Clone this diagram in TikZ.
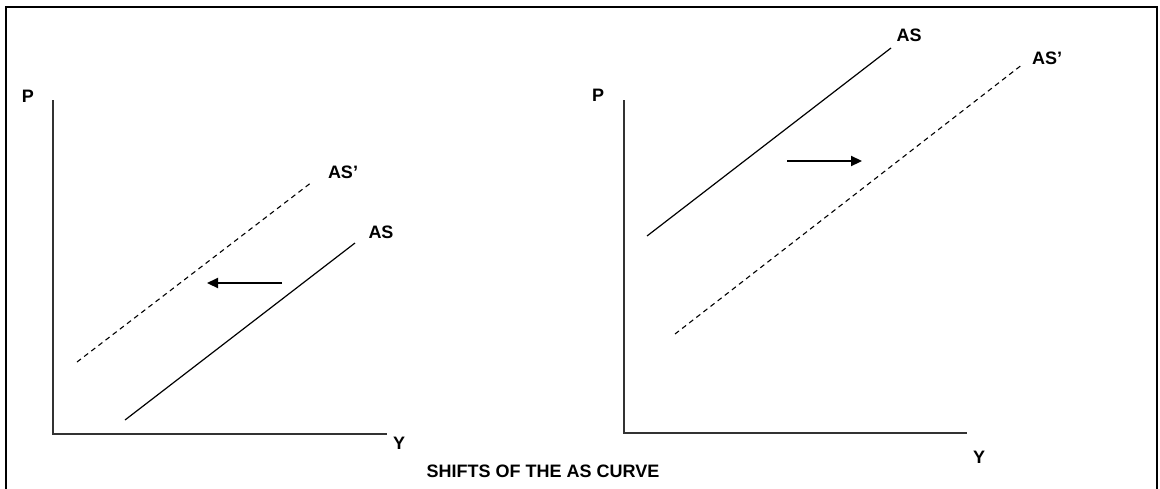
\documentclass[tikz,border=0pt]{standalone}
\usepackage{fontspec}
\setmainfont{Liberation Sans}
\usetikzlibrary{arrows.meta}
\begin{document}
\begin{tikzpicture}[x=1pt,y=-1pt,
  lbl/.style={font=\fontsize{18}{20}\selectfont\bfseries,inner sep=0pt,anchor=center},
  axisline/.style={line width=1.6pt,draw=black!80},
  curve/.style={line width=1.2pt,black},
  dcurve/.style={line width=1.1pt,black,dash pattern=on 5pt off 4pt},
  shiftarrow/.style={line width=2.2pt,black,-{Triangle[length=11pt,width=10pt]}}]
\useasboundingbox (0,0) rectangle (1160,488);
\draw[line width=2.8pt] (6,500) -- (6,7) -- (1157,7) -- (1157,500);
% left chart
\coordinate (LO) at (53,434);
\coordinate (LT) at (53,100);
\coordinate (LX) at (387,434);
\draw[axisline] (LT) -- (LO) -- (LX);
\node[lbl] (LP) at (28,96) {P};
\node[lbl] (LY) at (399,443) {Y};
\coordinate (LAS1) at (125,420);
\coordinate (LAS2) at (355,243);
\draw[curve] (LAS1) -- (LAS2);
\node[lbl] (LAS) at (381,232) {AS};
\coordinate (LASp1) at (77,362);
\coordinate (LASp2) at (312,182);
\draw[dcurve] (LASp1) -- (LASp2);
\node[lbl] (LASp) at (343,172) {AS’};
\coordinate (LA1) at (282,283);
\coordinate (LA2) at (207,283);
\draw[shiftarrow] (LA1) -- (LA2);
% right chart
\coordinate (RO) at (624,433);
\coordinate (RT) at (624,100);
\coordinate (RX) at (967,433);
\draw[axisline] (RT) -- (RO) -- (RX);
\node[lbl] (RP) at (598,95) {P};
\node[lbl] (RY) at (979,457) {Y};
\coordinate (RAS1) at (647,236);
\coordinate (RAS2) at (891,48);
\draw[curve] (RAS1) -- (RAS2);
\node[lbl] (RAS) at (909,35) {AS};
\coordinate (RASp1) at (675,334);
\coordinate (RASp2) at (1023,64);
\draw[dcurve] (RASp1) -- (RASp2);
\node[lbl] (RASp) at (1047,58) {AS’};
\coordinate (RA1) at (787,161);
\coordinate (RA2) at (862,161);
\draw[shiftarrow] (RA1) -- (RA2);
% title
\node[lbl] (title) at (543,471) {SHIFTS OF THE AS CURVE};
\end{tikzpicture}
\end{document}
